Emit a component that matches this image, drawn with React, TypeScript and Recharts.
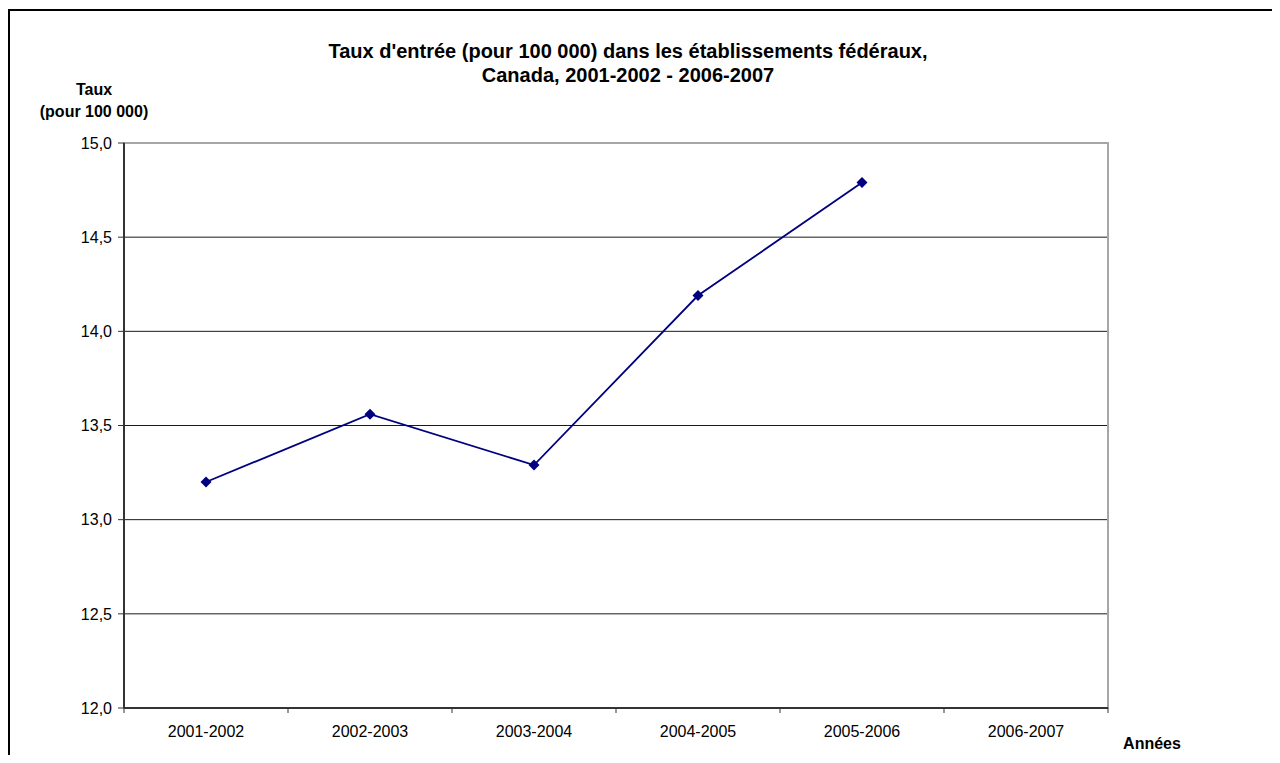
import { CartesianGrid, Line, LineChart, ReferenceArea, XAxis, YAxis } from 'recharts';

const years = ['2001-2002', '2002-2003', '2003-2004', '2004-2005', '2005-2006', '2006-2007'];
const rates: (number | null)[] = [13.2, 13.56, 13.29, 14.19, 14.79, null];
const rateTicks = [12, 12.5, 13, 13.5, 14, 14.5, 15];

const titleLines = [
  "Taux d'entrée (pour 100 000) dans les établissements fédéraux,",
  'Canada, 2001-2002 - 2006-2007',
];
const yLabelLines = ['Taux', '(pour 100 000)'];
const xLabel = 'Années';

const data = years.map((year, i) => ({ year, rate: rates[i] }));

const FONT = '"Liberation Sans", Arial, sans-serif';
const W = 1262;
const H = 745;
const MARGIN = { top: 132, right: 164, left: 0, bottom: 18 };
const Y_AXIS_W = 114;
const X_AXIS_H = 30;
const PLOT_W = W - MARGIN.left - MARGIN.right - Y_AXIS_W;
const BAND = PLOT_W / years.length;
const AXIS = '#333333';
const FRAME = '#a6a6a6';
const NAVY = '#000080';

const fmtRate = (v: number) => v.toFixed(1).replace('.', ',');

// Excel-style category axis: tick marks sit between categories, labels in the middle
function YearTick(props: any) {
  const { x, y, payload, index } = props;
  const half = BAND / 2;
  const isLast = index === years.length - 1 || payload.value === years[years.length - 1];
  return (
    <g>
      <line x1={x - half} x2={x - half} y1={y} y2={y + 5} stroke={AXIS} strokeWidth={1} />
      {isLast && <line x1={x + half} x2={x + half} y1={y} y2={y + 5} stroke={AXIS} strokeWidth={1} />}
      <text x={x} y={y + 29} textAnchor="middle" fontSize={16} fontFamily={FONT} fill="#000">
        {payload.value}
      </text>
    </g>
  );
}

function Diamond(props: any) {
  const { cx, cy } = props;
  if (cx == null || cy == null || props.value == null) return null;
  const r = 5.5;
  return <path d={`M${cx},${cy - r}L${cx + r},${cy}L${cx},${cy + r}L${cx - r},${cy}Z`} fill={NAVY} />;
}

export default function App() {
  return (
    <div
      style={{
        position: 'relative',
        top: 1,
        width: 1264,
        height: 747,
        boxSizing: 'border-box',
        borderTop: '2px solid #000',
        borderLeft: '2px solid #000',
        background: '#fff',
      }}
    >
      <LineChart width={W} height={H} data={data} margin={MARGIN}>
        <CartesianGrid vertical={false} stroke="#1a1a1a" strokeWidth={1} />
        {/* plot frame: grey on top and right, the axes cover left and bottom */}
        <ReferenceArea y1={12} y2={15} fill="none" stroke={FRAME} strokeWidth={2} ifOverflow="visible" />
        <XAxis
          dataKey="year"
          scale="band"
          height={X_AXIS_H}
          axisLine={{ stroke: AXIS, strokeWidth: 2 }}
          tickLine={false}
          tickSize={0}
          tickMargin={0}
          interval={0}
          tick={<YearTick />}
        />
        <YAxis
          width={Y_AXIS_W}
          domain={[12, 15]}
          ticks={rateTicks}
          interval={0}
          tickFormatter={fmtRate}
          axisLine={{ stroke: AXIS, strokeWidth: 2 }}
          tickLine={{ stroke: AXIS }}
          tickSize={6}
          tickMargin={6}
          tick={{ fontSize: 16, fontFamily: FONT, fill: '#000' }}
        />
        <Line
          type="linear"
          dataKey="rate"
          stroke={NAVY}
          strokeWidth={1.8}
          dot={<Diamond />}
          activeDot={false}
          isAnimationActive={false}
        />
      </LineChart>
      <svg
        width={W}
        height={H}
        style={{ position: 'absolute', left: 0, top: 0, pointerEvents: 'none' }}
        fontFamily={FONT}
      >
        <text x={618} y={47} textAnchor="middle" fontSize={20} fontWeight="bold">
          {titleLines[0]}
        </text>
        <text x={618} y={71} textAnchor="middle" fontSize={20} fontWeight="bold">
          {titleLines[1]}
        </text>
        <text x={84} y={84} textAnchor="middle" fontSize={16} fontWeight="bold">
          {yLabelLines[0]}
        </text>
        <text x={84} y={106} textAnchor="middle" fontSize={16} fontWeight="bold">
          {yLabelLines[1]}
        </text>
        <text x={1142} y={738} textAnchor="middle" fontSize={16} fontWeight="bold">
          {xLabel}
        </text>
      </svg>
    </div>
  );
}
